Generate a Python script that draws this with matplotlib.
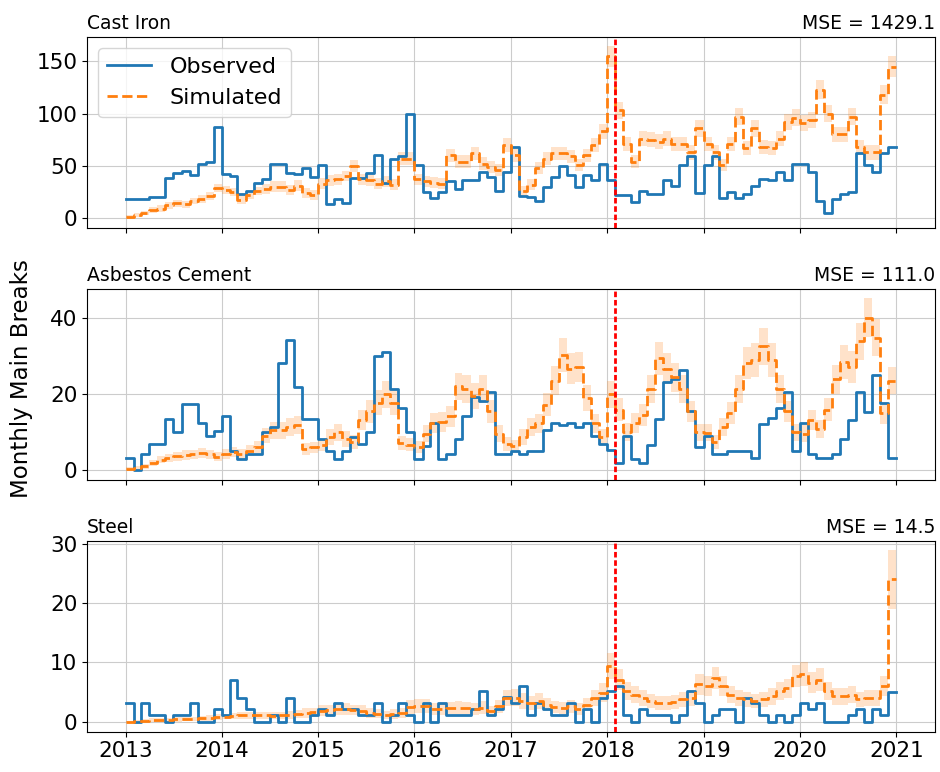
import matplotlib
matplotlib.use('Agg')
import matplotlib.pyplot as plt
import matplotlib.dates as mdates
import numpy as np
import pandas as pd

# monthly values, Jan 2013 .. Dec 2020
ci_obs = [18, 18, 18, 20, 20, 38, 43, 45, 41, 52, 54, 87,
          42, 40, 23, 26, 34, 37, 52, 52, 43, 42, 48, 39,
          51, 13, 18, 14, 38, 38, 43, 60, 34, 57, 59, 100,
          51, 25, 19, 25, 35, 28, 36, 36, 44, 39, 26, 44,
          68, 21, 20, 16, 30, 39, 50, 41, 30, 41, 36, 52,
          36, 22, 22, 15, 26, 23, 23, 36, 31, 51, 59, 24,
          51, 59, 19, 25, 19, 23, 31, 37, 36, 44, 36, 52,
          52, 44, 16, 5, 18, 23, 25, 62, 51, 44, 62, 68]
ci_sim = [1, 3, 5, 8, 9, 12, 14, 13, 16, 18, 21, 29,
          27, 25, 17, 22, 26, 28, 30, 30, 27, 31, 24, 22,
          33, 36, 37, 40, 50, 37, 36, 33, 35, 32, 57, 57,
          37, 35, 34, 33, 60, 54, 54, 62, 52, 49, 46, 70,
          60, 26, 32, 48, 57, 62, 62, 59, 51, 60, 70, 83,
          155, 103, 71, 54, 76, 75, 73, 76, 71, 71, 63, 86,
          71, 63, 51, 71, 97, 67, 86, 68, 67, 76, 92, 96,
          91, 94, 123, 100, 80, 80, 97, 68, 63, 63, 118, 145]
ci_err = [2, 2, 2, 3, 3, 3, 3, 3, 3, 4, 4, 4,
          4, 4, 4, 4, 4, 5, 5, 5, 5, 5, 5, 5,
          5, 5, 5, 5, 6, 5, 5, 5, 5, 5, 6, 6,
          5, 5, 5, 5, 6, 6, 6, 6, 6, 6, 6, 7,
          6, 5, 5, 6, 6, 6, 6, 6, 6, 6, 7, 7,
          10, 8, 7, 6, 7, 7, 7, 7, 7, 7, 7, 8,
          7, 7, 6, 7, 8, 7, 8, 7, 7, 7, 8, 8,
          8, 8, 9, 8, 7, 7, 8, 7, 7, 7, 9, 10]

ac_obs = [3.3, 0, 4.2, 7, 7, 13.4, 10, 17.4, 17.4, 12.3, 9.1, 10.2,
          14.3, 5.1, 3, 4.2, 4.2, 10, 11.4, 28, 34, 21.9, 13.4, 13.4,
          8.2, 5.1, 3, 5.1, 8.7, 7, 10, 30, 31, 21.4, 16.3, 10,
          3, 6.3, 12.3, 3, 4.2, 8.2, 14.3, 19.2, 18.1, 20.4, 4.2, 4.2,
          5.1, 4.2, 5.1, 5.1, 10.5, 12.5, 11.8, 12.5, 11.4, 12.5, 9, 7,
          5.3, 2, 9.1, 2.9, 2, 6.5, 13.4, 23, 24, 26.2, 15.4, 6.2,
          9.1, 4.2, 4.2, 5.1, 5.1, 5.1, 3.1, 12.1, 13.6, 16.3, 20.4, 5.1,
          12.3, 4.2, 3.1, 3.1, 4.2, 8.2, 13.2, 20.4, 15.2, 25, 17.7, 3.1]
ac_sim = [0.3, 0.5, 1.0, 2.0, 2.8, 3.2, 3.7, 4.0, 4.2, 4.6, 4.2, 3.6,
          4.2, 4.7, 4.2, 5.1, 6.0, 9.1, 10.5, 10.5, 11.4, 11.8, 5.6, 6.0,
          6.6, 8.7, 10.0, 8.2, 7.4, 13.2, 15.4, 17.7, 19.9, 17.7, 7.2, 6.7,
          6.0, 9.6, 12.3, 12.7, 14.1, 22.0, 21.3, 19.5, 21.3, 15.4, 9.6, 6.9,
          6.3, 8.7, 11.4, 12.3, 17.2, 23.5, 30.2, 26.6, 27.1, 19.0, 12.3, 8.7,
          19.9, 15.9, 10.0, 12.3, 14.5, 21.3, 29.3, 26.6, 24.4, 21.3, 15.4, 10.0,
          9.8, 7.4, 11.4, 15.0, 21.3, 28.0, 28.9, 32.5, 28.9, 21.3, 15.4, 10.0,
          9.6, 13.2, 10.9, 15.9, 23.9, 28.4, 27.1, 33.8, 40.0, 34.7, 15.0, 23.5]
ac_err = [0.5, 0.5, 0.7, 0.8, 1, 1, 1.2, 1.2, 1.2, 1.3, 1.2, 1.2,
          1.3, 1.3, 1.3, 1.4, 1.6, 2, 2.2, 2.2, 2.3, 2.3, 1.5, 1.5,
          1.6, 2, 2.2, 2, 1.8, 2.6, 3, 3.2, 3.5, 3.2, 1.8, 1.7,
          1.6, 2.2, 2.6, 2.6, 2.8, 3.6, 3.6, 3.4, 3.6, 3, 2.2, 1.8,
          1.7, 2, 2.4, 2.5, 3, 3.8, 4.4, 4, 4, 3.4, 2.5, 2,
          3.6, 3, 2.4, 2.6, 2.8, 3.6, 4.4, 4, 3.8, 3.6, 2.8, 2.2,
          2.2, 1.8, 2.4, 3, 3.6, 4.2, 4.4, 4.8, 4.4, 3.6, 2.8, 2.2,
          2.2, 2.6, 2.4, 3, 3.8, 4.4, 4.2, 4.8, 5.2, 4.8, 3, 3.5]

st_obs = [3.1, 0, 3.1, 1.1, 1.1, 0, 1.1, 1.1, 3.1, 0, 0, 2.1,
          1.1, 7.1, 4, 2.1, 0, 0, 1.1, 0, 4, 0, 0, 1.1,
          2.1, 1.1, 3.1, 2.1, 2.1, 1.1, 1.1, 3.1, 0, 1.1, 3.1, 1.1,
          0, 3.1, 0, 3.1, 1.1, 1.1, 1.1, 2.1, 5.2, 1.1, 2.1, 4.2,
          3.1, 6.1, 1.1, 3.1, 2.1, 1.1, 1.1, 3.1, 0, 2.1, 0, 4,
          5.2, 6.1, 1.1, 0, 2.1, 1.1, 1.1, 1.1, 0, 1.1, 5.2, 3.1,
          0, 1.1, 2.1, 2.1, 0, 4, 3.1, 1.1, 0, 1.1, 0, 1.1,
          3.1, 2.1, 3.1, 0, 0, 0, 1.1, 2.1, 0, 2.1, 1.1, 5]
st_sim = [0.0, 0.1, 0.2, 0.3, 0.3, 0.3, 0.4, 0.5, 0.5, 0.6, 0.7, 0.8,
          0.9, 1.0, 1.1, 1.1, 1.1, 1.1, 1.0, 1.1, 1.2, 1.3, 1.5, 1.6,
          1.9, 2.0, 2.1, 2.1, 2.0, 1.9, 1.5, 1.4, 1.2, 1.3, 1.5, 2.5,
          2.7, 2.7, 2.2, 2.1, 2.3, 2.4, 2.3, 2.2, 2.4, 1.8, 2.6, 4.0,
          4.1, 3.5, 3.2, 3.5, 2.9, 2.5, 2.4, 2.6, 2.1, 2.9, 4.0, 4.9,
          9.4, 7.1, 5.2, 4.6, 4.0, 3.5, 3.2, 3.2, 3.4, 3.8, 4.0, 6.3,
          6.0, 7.4, 6.0, 4.6, 4.0, 3.8, 3.5, 3.8, 4.3, 5.2, 5.7, 7.7,
          8.0, 6.6, 7.1, 5.2, 4.3, 4.3, 4.6, 3.8, 4.0, 4.0, 6.0, 24.0]
st_err = [0.2, 0.2, 0.3, 0.3, 0.3, 0.3, 0.4, 0.4, 0.4, 0.4, 0.5, 0.5,
          0.5, 0.5, 0.6, 0.6, 0.6, 0.6, 0.6, 0.6, 0.7, 0.7, 0.8, 0.8,
          0.9, 0.9, 1.0, 1.0, 0.9, 0.9, 0.8, 0.8, 0.7, 0.8, 0.8, 1.1,
          1.2, 1.2, 1.0, 1.0, 1.0, 1.1, 1.0, 1.0, 1.1, 0.9, 1.1, 1.4,
          1.4, 1.3, 1.2, 1.3, 1.1, 1.0, 1.0, 1.1, 1.0, 1.1, 1.4, 1.6,
          2.2, 1.8, 1.5, 1.4, 1.3, 1.2, 1.2, 1.2, 1.2, 1.3, 1.3, 1.7,
          1.7, 1.9, 1.7, 1.4, 1.3, 1.3, 1.2, 1.3, 1.4, 1.5, 1.6, 1.9,
          2.0, 1.8, 1.9, 1.5, 1.4, 1.4, 1.4, 1.3, 1.3, 1.3, 1.7, 5.0]

titles = ['Cast Iron', 'Asbestos Cement', 'Steel']
mse = ['MSE = 1429.1', 'MSE = 111.0', 'MSE = 14.5']
yticks = [[0, 50, 100, 150], [0, 20, 40], [0, 10, 20, 30]]
split_date = '2018-02-01'


def ext(v):
	# repeat last month so the step runs to Jan 2021
	v = np.asarray(v, dtype=float)
	return np.append(v, v[-1])


def main():
	dates = pd.date_range('2013-01-01', '2021-01-01', freq='MS')
	data = [(ci_obs, ci_sim, ci_err), (ac_obs, ac_sim, ac_err), (st_obs, st_sim, st_err)]

	fig = plt.figure(figsize=(9.4, 7.72), dpi=100)
	tops = [0.952, 0.6256, 0.2992]
	h = 0.247
	axes = []
	for i in range(3):
		if i == 0:
			ax = fig.add_axes([0.0926, tops[i] - h, 0.902, h])
		else:
			ax = fig.add_axes([0.0926, tops[i] - h, 0.902, h], sharex=axes[0])
		axes.append(ax)

	for i, ax in enumerate(axes):
		obs, sim, err = data[i]
		sim_e = ext(sim)
		err_e = ext(err)
		ax.fill_between(dates, sim_e - err_e, sim_e + err_e, step='post',
						color='tab:orange', alpha=0.22, linewidth=0)
		l1, = ax.step(dates, ext(obs), where='post', color='tab:blue', lw=2, label='Observed')
		l2, = ax.step(dates, sim_e, where='post', color='tab:orange', lw=2, ls='--', label='Simulated')
		ax.axvline(pd.Timestamp(split_date), color='red', ls=(0, (2, 1)), lw=2)
		ax.set_yticks(yticks[i])
		ax.grid(True, color='#cccccc', lw=0.8)
		ax.set_axisbelow(True)
		ax.tick_params(labelsize=15.5)
		ax.set_title(titles[i], loc='left', fontsize=13.5)
		ax.set_title(mse[i], loc='right', fontsize=13.5)
		if i == 0:
			ax.legend(handles=[l1, l2], loc='upper left', fontsize=16)
		if i < 2:
			plt.setp(ax.get_xticklabels(), visible=False)

	axes[0].xaxis.set_major_locator(mdates.YearLocator())
	axes[0].xaxis.set_major_formatter(mdates.DateFormatter('%Y'))

	fig.text(0.0234, 0.509, 'Monthly Main Breaks', rotation=90, va='center', ha='center', fontsize=16.5)

	fig.savefig('out.png', dpi=100)


if __name__ == '__main__':
	main()
